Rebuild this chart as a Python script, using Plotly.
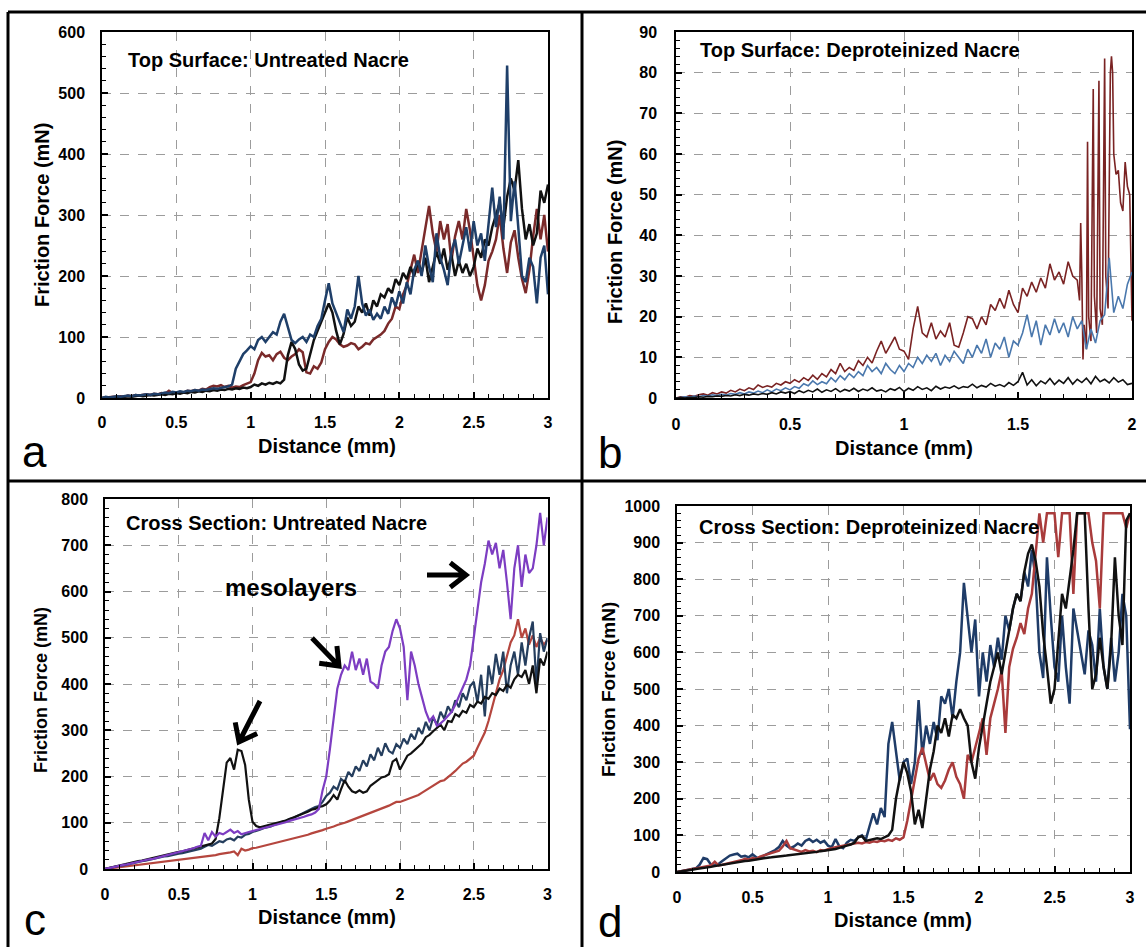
import numpy as np
import plotly.graph_objects as go

# ---------------- data ----------------
# Panel a: Top Surface, Untreated Nacre (x: 0..3 mm, step 0.025)
A_RED = [0,1,1,2,2,3,2,4,3,5,4,5,6,5,7,6,8,7,12,8,
         9,10,9,12,11,13,12,15,14,18,20,19,21,18,20,17,19,18,21,23,
         26,40,62,74,68,70,62,72,76,66,62,68,72,80,75,42,40,52,48,58,
         80,92,100,96,88,84,86,90,88,80,84,90,88,96,100,104,110,122,130,150,
         146,170,185,210,235,205,240,275,315,270,240,290,260,285,225,265,290,260,310,275,
         230,185,160,185,225,240,260,300,245,205,255,275,230,195,172,210,265,310,260,300,
         240]
A_BLACK = [0,1,0,1,2,1,2,3,2,3,4,3,4,5,4,5,6,5,7,6,
           8,7,9,8,10,9,11,10,12,11,13,12,14,13,15,14,16,15,17,16,
           18,22,20,24,22,25,23,26,24,30,70,92,80,55,45,48,70,95,110,125,
           140,155,140,110,88,105,132,118,125,150,140,155,135,160,150,170,165,180,172,195,
           185,205,195,215,200,225,205,230,190,215,240,220,245,210,235,200,225,205,220,200,
           215,245,230,260,250,280,300,320,280,330,360,340,390,310,260,285,250,270,340,320,
           350]
A_BLUE = [0,2,1,2,3,2,3,4,3,5,4,5,6,5,7,6,8,9,8,10,
          9,11,10,12,11,13,12,14,13,15,16,15,17,18,19,22,48,60,72,78,
          85,80,95,100,92,100,108,104,125,138,115,95,90,96,100,92,104,100,118,130,
          160,188,155,140,122,108,145,130,150,200,155,135,145,128,138,130,150,138,165,150,
          175,155,190,170,210,225,200,250,215,190,270,230,210,185,240,260,220,250,280,240,
          290,250,270,225,290,345,280,330,260,545,290,355,280,200,190,230,215,155,230,250,
          170]

# Panel b: Top Surface, Deproteinized Nacre (x: 0..2 mm)
B_RED_HEAD = [0,0.3,0.2,0.6,0.4,0.8,1.0,0.7,1.3,1.0,
              1.5,1.2,1.9,1.5,2.2,1.8,2.5,2.1,3.2,2.6,
              3.0,2.7,3.6,3.2,4.0,3.6,4.5,3.9,5.0,4.3,
              5.6,4.6,6.0,5.2,7.0,6.0,8.5,6.5,7.5,6.8,
              9.2,8.0,10.0,8.6,11.5,14.0,11.0,13.0,15.0,12.0,
              11.5,9.5,17.0,22.5,16.0,15.0,18.5,14.5,16.5,15.0,
              18.5,13.0,12.5,16.0,20.0,19.5,17.0,20.0,18.0,23.0,
              21.5,24.5,22.0,26.5,23.0,21.0,27.0,25.0,28.5,26.0,
              29.5,27.0,33.0,29.0,31.0,28.0,33.5,30.0,29.0]
B_RED_TAIL_X = [1.77,1.775,1.78,1.785,1.79,1.80,1.805,1.81,1.82,1.83,1.835,1.845,1.855,1.86,1.87,
                1.88,1.885,1.895,1.905,1.91,1.915,1.92,1.93,1.94,1.95,1.96,1.97,1.98,1.99,2.0]
B_RED_TAIL = [24,43,30,9.5,18,12,63,20,14,76,25,16,78,22,18,
              83.5,30,22,80,84,80,60,55,56,48,46,58,52,50,19]
B_BLUE = [0,0.1,0.3,0.2,0.5,0.3,0.6,0.5,0.8,0.6,
          0.9,0.7,1.1,0.9,1.3,1.0,1.5,1.2,1.7,1.3,
          2.0,1.5,2.2,1.8,2.5,2.0,2.8,2.4,3.5,3.0,
          4.2,3.3,4.0,3.5,5.0,4.0,5.5,4.5,6.0,5.0,
          6.5,5.5,8.0,6.5,7.5,6.0,8.5,7.0,6.0,8.0,
          6.5,8.5,7.5,10.0,8.5,10.5,9.0,11.0,8.0,10.5,
          9.0,11.5,10.0,8.5,12.0,10.0,13.0,11.0,14.5,10.0,
          13.5,12.0,15.0,10.0,14.0,13.0,16.0,20.5,15.0,19.0,
          13.0,18.0,15.5,19.5,16.0,18.5,15.0,20.0,17.0,19.0,
          12.0,17.0,13.5,19.0,20.5,34.5,21.0,25.0,22.0,28.0,
          31.0]
B_BLACK = [0.0,0.1,0.0,0.2,0.1,0.3,0.2,0.4,0.3,0.5,
           0.4,0.6,0.5,0.8,0.6,0.9,0.7,1.0,0.8,1.1,
           0.9,1.3,1.0,1.5,1.2,1.6,1.1,1.8,1.3,1.9,
           1.5,2.2,1.4,2.0,1.6,2.3,1.5,2.1,1.7,2.4,
           1.6,2.2,1.8,2.5,1.7,2.0,1.5,2.3,1.9,2.6,
           1.6,2.4,1.9,2.8,2.1,2.5,1.8,2.9,2.2,2.7,
           2.4,3.0,2.3,2.8,2.6,3.4,2.5,3.1,2.7,3.6,
           2.9,3.3,2.8,3.8,3.1,4.0,6.3,3.2,4.5,3.0,
           4.2,3.5,4.8,3.3,4.4,3.6,5.0,3.4,4.6,3.8,
           4.9,3.5,5.3,4.0,4.6,3.7,5.0,3.9,4.5,3.3,
           3.6]

# Panel c: Cross Section, Untreated Nacre (x: 0..3 mm, step 0.025)
C_RED = [0,1,2,3,4,4,5,6,7,8,9,10,11,12,13,14,15,16,17,18,
         19,20,21,22,24,25,26,27,28,29,30,32,33,34,36,38,30,44,40,42,
         45,46,48,50,52,54,55,57,59,61,63,65,67,70,72,74,77,79,82,84,
         87,89,92,95,97,100,103,106,109,112,115,118,121,124,127,131,134,137,141,145,
         145,148,152,155,158,160,165,170,175,180,185,190,192,198,205,212,220,228,232,238,
         245,262,280,295,320,350,385,410,430,460,490,505,540,500,520,485,505,480,500,485,
         495]
C_NAVY = [0,2,3,5,7,8,10,12,13,15,17,18,20,22,23,25,27,28,30,31,
          33,34,36,38,40,42,44,48,52,50,56,60,58,64,66,62,70,68,74,76,
          80,82,85,88,90,92,96,98,102,104,108,110,114,118,122,125,130,134,136,145,
          158,165,178,172,195,188,210,200,222,212,235,222,248,235,262,245,272,255,250,270,
          262,282,270,292,280,305,292,318,300,328,312,340,325,352,338,365,350,380,365,395,
          405,360,420,330,440,400,465,420,470,380,440,470,420,490,440,500,535,400,510,470,
          500]
C_BLACK = [0,2,4,6,7,9,11,13,15,17,18,20,22,24,26,28,29,31,33,35,
           37,38,40,42,44,46,48,50,52,55,65,110,170,230,240,215,258,255,225,150,
           102,93,90,92,94,96,98,100,102,105,108,111,114,117,120,124,128,130,134,136,
           140,148,160,150,172,192,178,168,165,170,165,168,180,186,192,198,200,205,232,238,
           215,230,245,250,258,265,272,285,290,298,305,312,300,320,318,335,330,342,338,355,
           350,362,358,372,368,380,376,390,385,398,392,410,420,415,430,400,440,380,455,440,
           470]
C_PURPLE = [0,2,4,5,7,9,10,12,14,15,17,19,21,22,24,26,28,30,32,34,
            36,38,40,42,45,48,50,78,62,80,70,78,75,80,85,78,82,75,78,80,
            82,84,86,88,90,92,94,97,99,101,104,106,108,110,113,116,118,122,130,170,
            200,260,330,390,420,440,430,470,430,455,420,455,405,400,390,440,470,480,515,540,
            520,480,365,470,440,400,370,340,320,330,310,315,322,330,340,355,372,392,410,440,
            500,560,620,660,710,680,705,650,690,620,540,650,700,610,680,640,650,700,770,700,
            760]

# Panel d: Cross Section, Deproteinized Nacre (x: 0..3 mm, step 0.025)
D_NAVY = [0,2,4,6,8,10,20,38,35,20,18,22,30,38,45,48,50,42,44,40,
          48,40,38,45,50,55,60,68,85,72,65,70,78,72,85,90,82,88,80,85,
          72,68,90,70,65,80,88,85,95,100,88,125,160,130,175,150,350,410,330,250,
          300,310,240,300,470,320,400,350,410,360,480,460,500,420,520,600,790,700,600,690,
          480,600,520,620,560,640,580,700,660,720,760,740,820,780,880,800,600,530,860,700,
          560,520,700,560,460,720,660,600,540,660,620,520,720,560,500,640,520,600,760,700,
          390]
D_RED = [0,2,4,6,8,10,12,14,16,18,28,18,20,22,24,26,28,32,36,34,
         38,36,42,45,48,50,55,58,70,85,65,62,58,55,60,56,58,54,60,58,
         62,66,68,70,72,74,76,78,80,78,82,80,84,82,86,84,88,85,92,88,
         95,140,200,260,310,340,290,250,270,240,230,250,280,300,260,240,200,320,300,340,
         380,420,320,420,460,500,550,380,560,610,640,680,650,720,760,880,980,900,980,980,
         980,860,980,980,980,760,980,980,980,980,900,850,720,980,980,980,980,980,980,940,
         980]
D_BLACK = [0,1,3,4,6,8,9,11,13,14,16,18,19,21,23,24,26,28,30,31,
           33,34,36,37,39,40,42,43,44,45,46,47,48,50,51,52,54,55,57,58,
           60,62,63,66,68,72,75,80,95,98,85,88,90,92,90,95,100,115,200,255,
           300,270,220,130,170,120,200,280,330,400,380,420,370,430,420,445,420,400,300,255,
           340,400,460,520,560,600,540,600,660,720,760,740,820,870,895,850,780,650,560,460,
           500,640,760,720,800,880,980,980,980,720,500,540,640,560,500,620,860,700,620,960,
           980]

# ---------------- layout helpers ----------------
W, H = 1146, 947
FONT = "Liberation Sans, Arial, sans-serif"


def PX(x):
    return x / W


def PY(y):
    return 1 - y / H


def axis(dom, rng, dtick, minor, standoff):
    return dict(
        domain=dom, range=rng, tick0=0, dtick=dtick, autorange=False,
        automargin=False,
        showline=True, linecolor="black", linewidth=1.5, mirror=True,
        ticks="inside", ticklen=6, tickwidth=1.5, tickcolor="black",
        minor=dict(ticks="inside", ticklen=4, tickwidth=1, tickcolor="black",
                   tick0=0, dtick=minor, showgrid=False),
        showgrid=True, gridcolor="#9c9c9c", griddash="dash", gridwidth=1,
        zeroline=False, fixedrange=True,
        tickfont=dict(family=FONT, size=16, color="black", weight="bold"),
        ticklabelstandoff=standoff,
    )


fig = go.Figure()


def add(x, y, color, width, xa, ya):
    fig.add_trace(go.Scatter(x=x, y=y, mode="lines", xaxis=xa, yaxis=ya,
                             line=dict(color=color, width=width),
                             hoverinfo="skip", showlegend=False))


def grid(y, end):
    return np.linspace(0, end, len(y))


# panel a
add(grid(A_RED, 3), A_RED, "#7a2a2a", 2.5, "x", "y")
add(grid(A_BLACK, 3), A_BLACK, "#111111", 2.5, "x", "y")
add(grid(A_BLUE, 3), A_BLUE, "#1f3f69", 2.5, "x", "y")
# panel b
b_red_x = list(np.round(np.arange(len(B_RED_HEAD)) * 0.02, 3)) + B_RED_TAIL_X
add(b_red_x, B_RED_HEAD + B_RED_TAIL, "#7a2323", 1.6, "x2", "y2")
add(grid(B_BLUE, 2), B_BLUE, "#4a78ad", 1.6, "x2", "y2")
add(grid(B_BLACK, 2), B_BLACK, "#111111", 1.6, "x2", "y2")
# panel c
add(grid(C_RED, 3), C_RED, "#b5463e", 2.2, "x3", "y3")
add(grid(C_NAVY, 3), C_NAVY, "#253e5e", 2.2, "x3", "y3")
add(grid(C_BLACK, 3), C_BLACK, "#111111", 2.2, "x3", "y3")
add(grid(C_PURPLE, 3), C_PURPLE, "#7d3dc2", 2.2, "x3", "y3")
# panel d
add(grid(D_NAVY, 3), D_NAVY, "#1f3c68", 2.5, "x4", "y4")
add(grid(D_RED, 3), D_RED, "#a93b3b", 2.5, "x4", "y4")
add(grid(D_BLACK, 3), D_BLACK, "#111111", 2.5, "x4", "y4")

layout = dict(
    width=W, height=H, margin=dict(l=0, r=0, t=0, b=0, pad=0, autoexpand=False),
    paper_bgcolor="white", plot_bgcolor="white", showlegend=False,
    xaxis=axis([PX(102), PX(548)], [0, 3], 0.5, 0.1, 9),
    yaxis=axis([PY(398), PY(32)], [0, 600], 100, 20, 12),
    xaxis2=axis([PX(676), PX(1132)], [0, 2], 0.5, 0.1, 11),
    yaxis2=axis([PY(398), PY(32)], [0, 90], 10, 2, 14),
    xaxis3=axis([PX(105), PX(547.5)], [0, 3], 0.5, 0.1, 10),
    yaxis3=axis([PY(869), PY(499)], [0, 800], 100, 20, 12),
    xaxis4=axis([PX(677), PX(1130)], [0, 3], 0.5, 0.1, 10),
    yaxis4=axis([PY(872), PY(506)], [0, 1000], 100, 20, 12),
)
for i in ("", "2", "3", "4"):
    layout["xaxis" + i]["anchor"] = "y" + i
    layout["yaxis" + i]["anchor"] = "x" + i
fig.update_layout(**layout)

# text
ann = []


def text(s, x, y, size, bold=True, angle=0, xanchor="center", yanchor="middle"):
    ann.append(dict(text=s, x=PX(x), y=PY(y), xref="paper", yref="paper",
                    showarrow=False, textangle=angle, xanchor=xanchor, yanchor=yanchor,
                    font=dict(family=FONT, size=size, color="black",
                              weight="bold" if bold else "normal")))


text("Top Surface: Untreated Nacre", 268, 60, 20)
text("Top Surface: Deproteinized Nacre", 860, 50, 20)
text("Cross Section: Untreated Nacre", 276, 523, 20)
text("Cross Section: Deproteinized Nacre", 869, 527, 20)
text("Friction Force (mN)", 42, 215, 20, angle=-90)
text("Friction Force (mN)", 615, 232, 20, angle=-90)
text("Friction Force (mN)", 41, 690, 18, angle=-90)
text("Friction Force (mN)", 608, 690, 19, angle=-90)
text("Distance (mm)", 327, 446, 20)
text("Distance (mm)", 904, 448, 20)
text("Distance (mm)", 327, 917, 20)
text("Distance (mm)", 903, 920, 20)
text("mesolayers", 291, 587, 24)
text("a", 20, 451, 44, bold=False, xanchor="left")
text("b", 596, 452, 44, bold=False, xanchor="left")
text("c", 22, 919, 44, bold=False, xanchor="left")
text("d", 596, 921, 44, bold=False, xanchor="left")
fig.update_layout(annotations=ann)

# frame lines and arrows
shapes = []
for (x0, y0, x1, y1) in [(8, 12, W, 12), (8, 12, 8, H), (582, 12, 582, H), (8, 481, W, 481)]:
    shapes.append(dict(type="line", xref="paper", yref="paper",
                       x0=PX(x0), y0=PY(y0), x1=PX(x1), y1=PY(y1),
                       line=dict(color="black", width=3)))


def arrow(tail, head, L=20, ang=38):
    t = np.array(tail, float)
    h = np.array(head, float)
    u = (h - t) / np.linalg.norm(h - t)
    pts = []
    for s in (1, -1):
        a = np.radians(ang * s)
        r = np.array([u[0] * np.cos(a) - u[1] * np.sin(a), u[0] * np.sin(a) + u[1] * np.cos(a)])
        pts.append(h - L * r)
    p = lambda q: f"{PX(q[0]):.5f},{PY(q[1]):.5f}"
    path = f"M {p(t)} L {p(h)} M {p(pts[0])} L {p(h)} L {p(pts[1])}"
    shapes.append(dict(type="path", xref="paper", yref="paper", path=path,
                       line=dict(color="black", width=5)))


arrow((260, 701), (239, 742))
arrow((312, 638), (339, 666))
arrow((427, 575), (466, 575))
fig.update_layout(shapes=shapes)

POST = (
    "document.documentElement.style.margin='0';"
    "document.documentElement.style.padding='0';"
    "document.documentElement.style.overflow='hidden';"
    "document.body.style.margin='0';"
    "document.body.style.padding='0';"
    "document.body.style.overflow='hidden';"
    "var g=document.getElementById('{plot_id}');"
    "g.style.position='fixed';g.style.left='0px';g.style.top='0px';"
)
fig.write_html("out.html", config={"displayModeBar": False}, post_script=POST)
